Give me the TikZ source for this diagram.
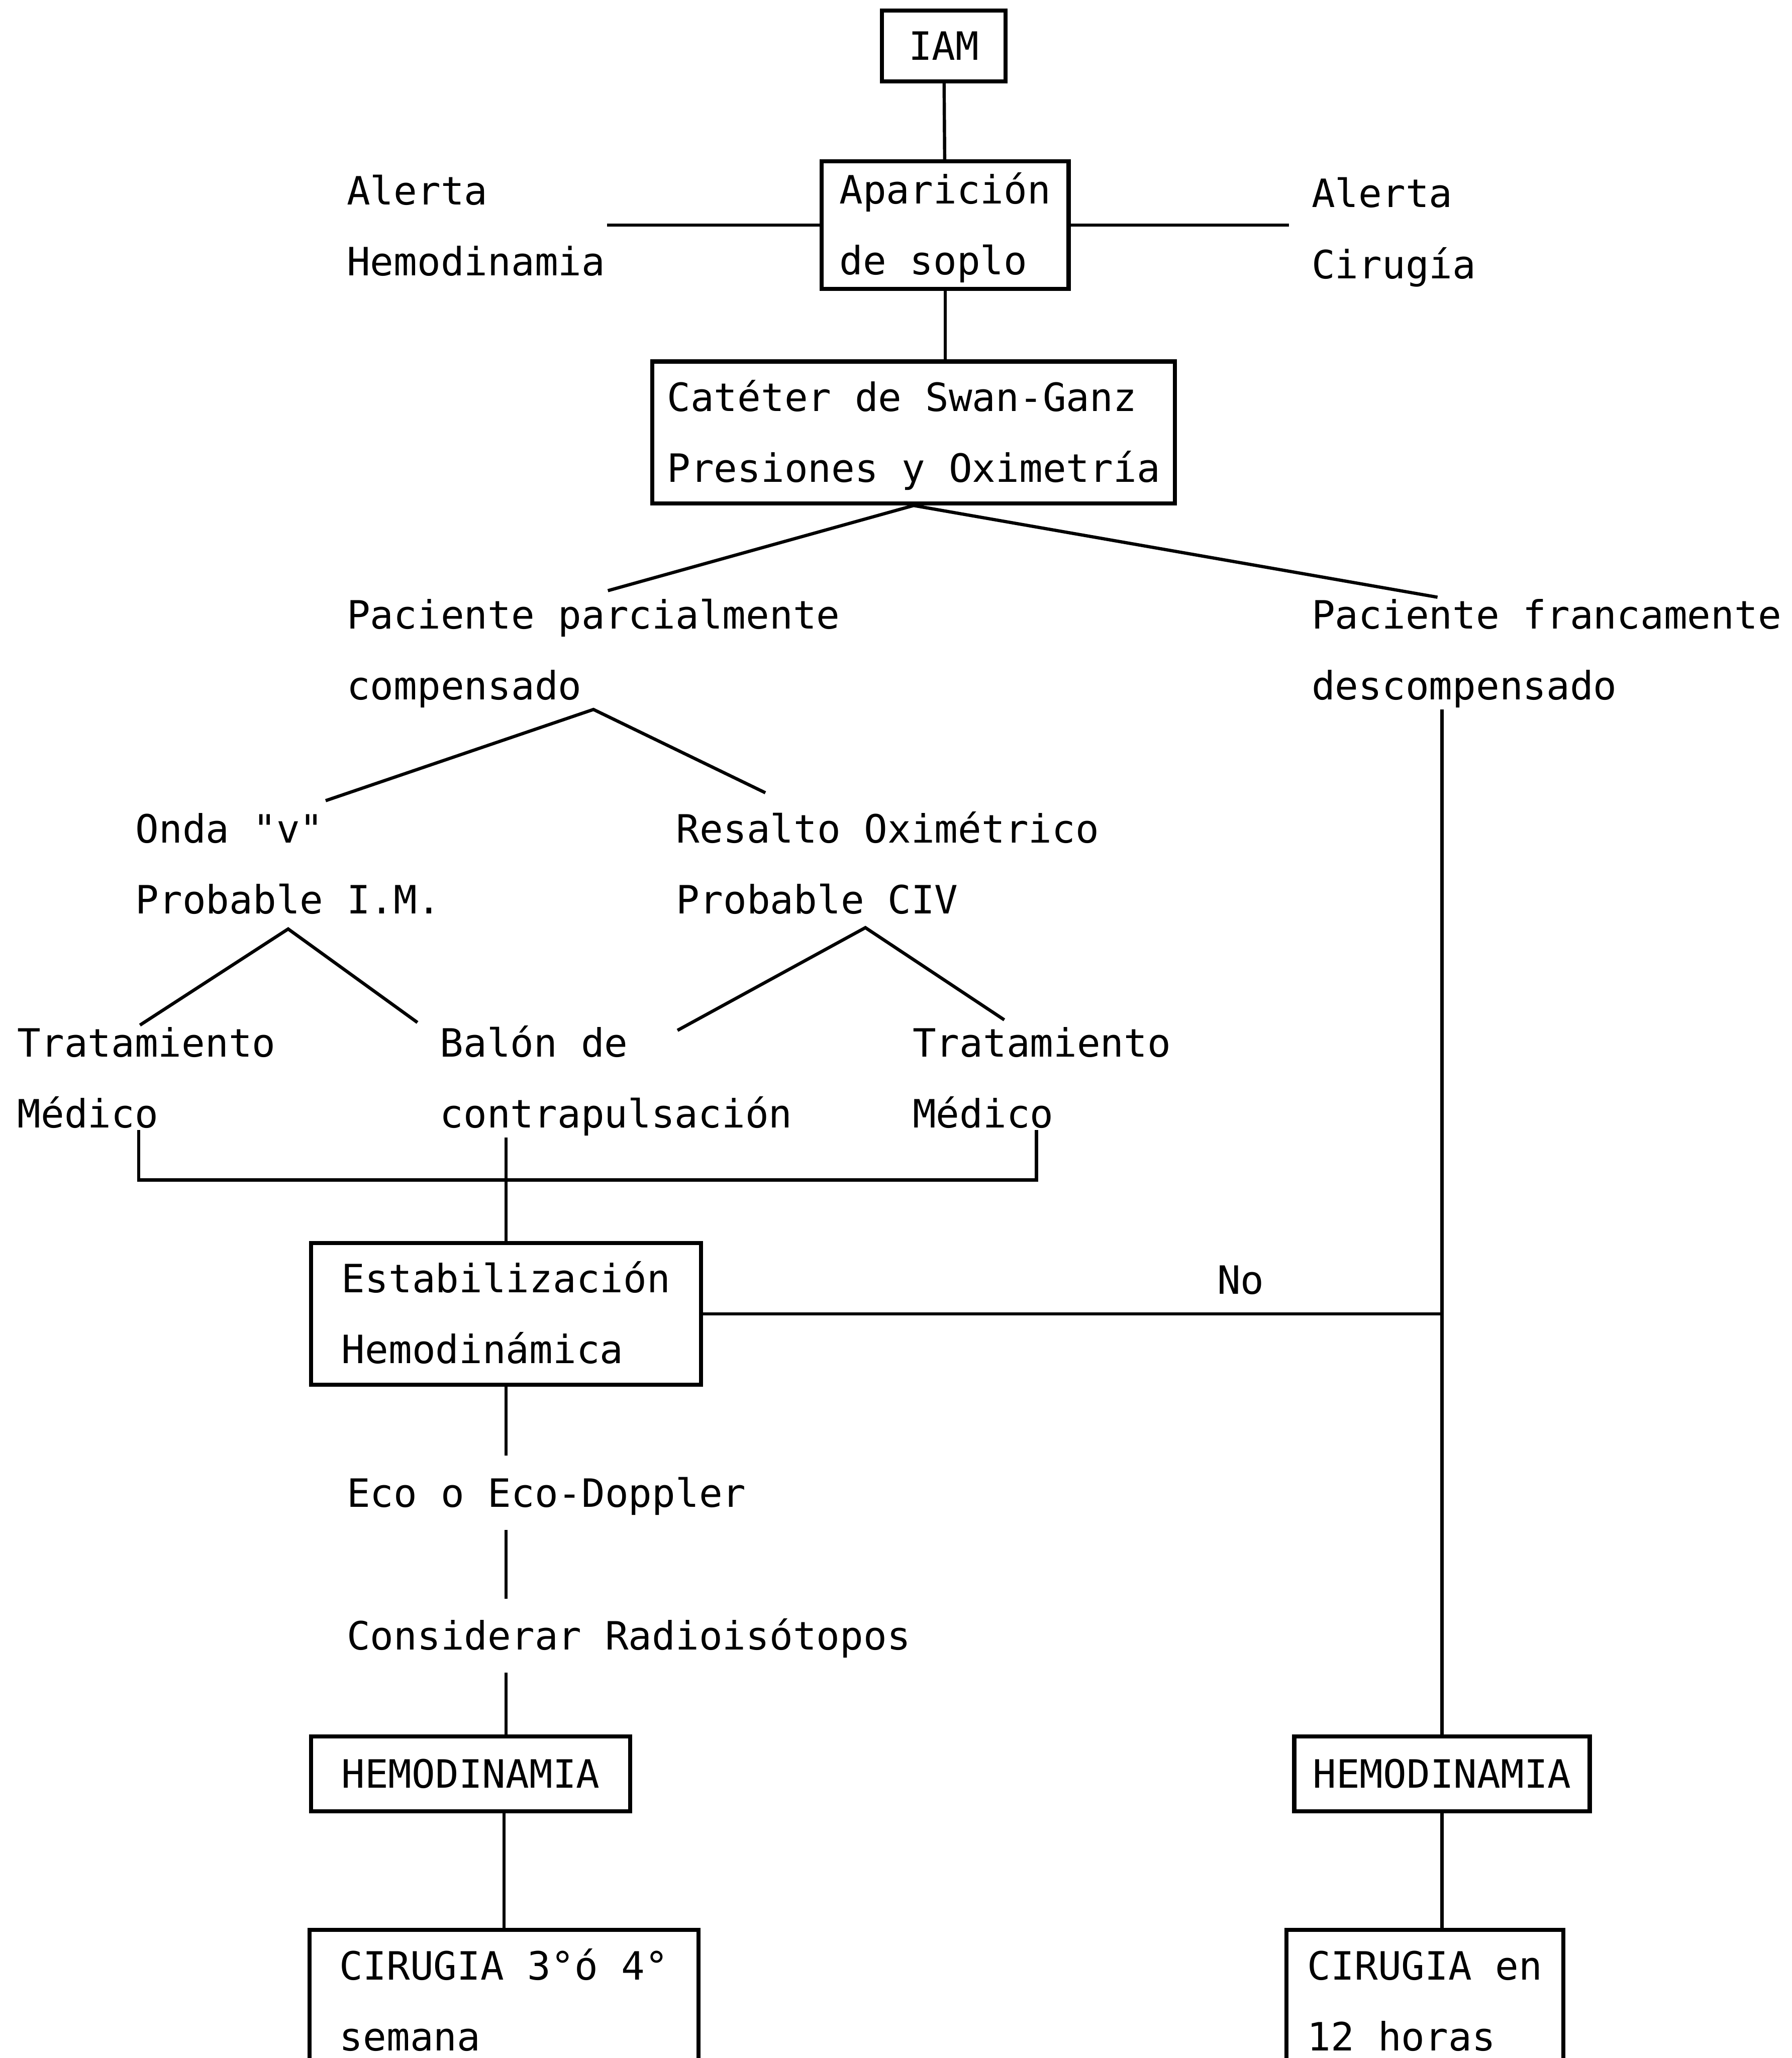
\documentclass[tikz,border=0pt]{standalone}
\usepackage{fontspec}
\setmainfont{DejaVu Sans Mono}[Ligatures=TeXOff]
\usepackage{tikz}
\tikzset{
  caja/.style={draw, line width=0.9pt, align=left, inner sep=0pt},
  txt/.style={anchor=north west, align=left, inner sep=0pt}
}

\begin{document}
\begin{tikzpicture}[x=0.01cm, y=-0.01cm, line width=0.7pt,
  every node/.style={font=\fontsize{8.45pt}{15.37pt}\selectfont}]
\useasboundingbox (0,0) rectangle (1365,1568);
\clip (0,0) rectangle (1365,1568);
\node[caja, minimum width=0.94cm, minimum height=0.42cm] (iam) at (719,35) {\strut IAM\strut};
\node[caja, minimum width=1.88cm, minimum height=0.97cm, inner ysep=-0.055cm] (apa) at (720,171.5) {\strut Aparición\\de soplo\strut};
\node[caja, minimum width=3.98cm, minimum height=1.05cm] (cat) at (696,329.5) {\strut Catéter de Swan-Ganz\\Presiones y Oximetría\strut};
\node[caja, minimum width=2.97cm, minimum height=1.02cm] (est) at (385.5,1001) {\strut Estabilización\\Hemodinámica\strut};
\node[caja, minimum width=2.43cm, minimum height=0.57cm] (heml) at (358.5,1351.5) {\strut HEMODINAMIA\strut};
\node[caja, minimum width=2.25cm, minimum height=0.57cm] (hemr) at (1098.5,1351.5) {\strut HEMODINAMIA\strut};
\node[caja, minimum width=2.96cm, minimum height=1.07cm] (cirl) at (384,1524.5) {\strut CIRUGIA 3°ó 4°\\semana\strut};
\node[caja, minimum width=2.11cm, minimum height=1.07cm] (cirr) at (1085.5,1524.5) {\strut CIRUGIA en\\12 horas\strut};
\node[txt] (alh) at (263,117) {\strut Alerta\\Hemodinamia};
\node[txt] (alc) at (998,119) {\strut Alerta\\Cirugía};
\node[txt] (ppc) at (263,440) {\strut Paciente parcialmente\\compensado};
\node[txt] (pfd) at (998,440) {\strut Paciente francamente\\descompensado};
\node[txt] (onda) at (102,603) {\strut Onda "v"\\Probable I.M.};
\node[txt] (res) at (514,603) {\strut Resalto Oximétrico\\Probable CIV};
\node[txt] (tml) at (12,766) {\strut Tratamiento\\Médico};
\node[txt] (bal) at (334,766) {\strut Balón de\\contrapulsación};
\node[txt] (tmr) at (694,766) {\strut Tratamiento\\Médico};
\node[txt] (no) at (926,947) {\strut No};
\node[txt] (eco) at (263,1109) {\strut Eco o Eco-Doppler};
\node[txt] (rad) at (263,1218) {\strut Considerar Radioisótopos};
\coordinate (jn) at (386,899);
\draw (iam) -- (apa);
\draw (apa.south) -- (apa.south |- cat.north);
\draw (apa.west) -- (apa.west -| alh.east);
\draw[shorten >=0.16cm] (apa.east) -- (apa.east -| alc.west);
\draw ([xshift=0.11cm,yshift=-0.1cm]ppc.north) -- (cat.south) -- ([xshift=0.97cm,yshift=-0.15cm]pfd.north west);
\draw ([xshift=1.46cm,yshift=-0.07cm]onda.north west) -- (ppc.south) -- ([xshift=0.69cm,yshift=-0.01cm]res.north west);
\draw ([xshift=-0.05cm,yshift=-0.15cm]tml.north) -- ([yshift=-0.1cm]onda.south) -- ([xshift=-0.16cm,yshift=-0.13cm]bal.north west);
\draw ([xshift=1.82cm,yshift=-0.19cm]bal.north west) -- ([xshift=-0.17cm,yshift=-0.09cm]res.south) -- ([xshift=0.71cm,yshift=-0.11cm]tmr.north west);
\draw ([xshift=-0.06cm]tml.south) |- (jn) -| ([xshift=-0.04cm]tmr.south);
\draw (est.north |- bal.south) -- (est.north);
\draw (est.east) -- (est.east -| hemr.north);
\draw (hemr.north |- pfd.south) -- (hemr.north);
\foreach \a/\b in {est.south/eco.north, eco.south/rad.north, rad.south/heml.north}
  \draw (est.south |- \a) -- (est.south |- \b);
\draw (cirl.north |- heml.south) -- (cirl.north);
\draw (hemr.south) -- (hemr.south |- cirr.north);
\end{tikzpicture}
\end{document}
